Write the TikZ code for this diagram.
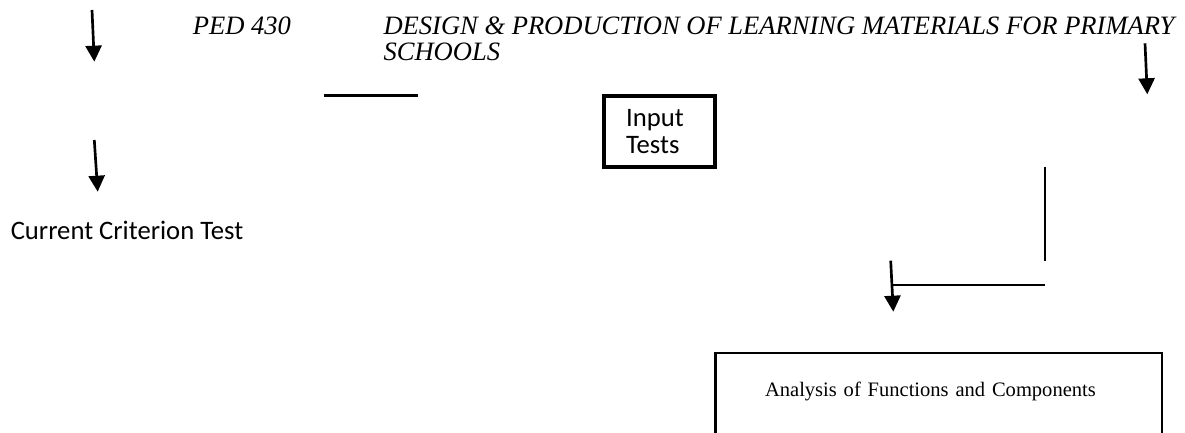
\documentclass[tikz,border=0pt]{standalone}
\usepackage{fontspec}
\setmainfont{Liberation Serif}
\newfontfamily\calibri{Carlito}
\usetikzlibrary{arrows.meta}

\begin{document}
\begin{tikzpicture} [
        x=0.75pt, y=-0.75pt,
        arrowline/.style={line width=2pt, -{Triangle[width=12pt, length=12pt]}},
        rule/.style={line width=1.5pt},
        heading/.style={inner sep=0, font=\itshape\fontsize{19.9}{19.5}\selectfont},
        label/.style={inner sep=0, font=\calibri\fontsize{20}{20.5}\selectfont},
        inputbox/.style={draw, line width=3pt, minimum width=83pt, minimum height=53.5pt, text width=50pt, outer sep=0},
        funcbox/.style={draw, line width=2pt, outer sep=0, text width=260.5pt, inner xsep=37.3pt, inner ysep=22.1pt, text height=10.7pt, text depth=60pt, font=\fontsize{15.4}{18}\selectfont},
        l/.style={align=left}
    ]
        \useasboundingbox (0,0) rectangle (1185,432);

        \node [heading, anchor=base west] (course) at (192.7,34.3) {PED 430};
        \node [heading, l, anchor=base west] (title) at (383.3,60.3) {DESIGN \& PRODUCTION OF LEARNING MATERIALS FOR PRIMARY\\SCHOOLS};

        \node [inputbox, label, l] (input) at (659.4,131.7) {Input\\Tests};
        \node [label, anchor=base west] (criterion) at (10.5,239) {Current Criterion Test};
        \node [funcbox, l, anchor=north west] (analysis) at (715.3,353) {Analysis of Functions and Components};

        \foreach \n/\xa/\ya/\xb/\yb in {a/92/10/94.3/61.7, b/94.3/140/97.7/191.7, c/1145/43.3/1147.3/94.3, d/890.7/260.7/893.3/311.7} {
            \coordinate (\n-top) at (\xa,\ya);
            \coordinate (\n-tip) at (\xb,\yb);
            \draw[arrowline] (\n-top) -- (\n-tip);
        }

        \coordinate (bar-w) at (324,95.7);
        \coordinate (bar-e) at (418.3,95.7);
        \draw[line width=2pt] (bar-w) -- (bar-e);

        \coordinate (drop-top) at (1045,166.7);
        \coordinate (drop-bot) at (1045,260.7);
        \coordinate (turn-e) at (1045,284.7);
        \coordinate (turn-w) at (893,284.7);
        \draw[rule] (drop-top) -- (drop-bot);
        \draw[rule] (turn-e) -- (turn-w);
    \end{tikzpicture}
\end{document}
